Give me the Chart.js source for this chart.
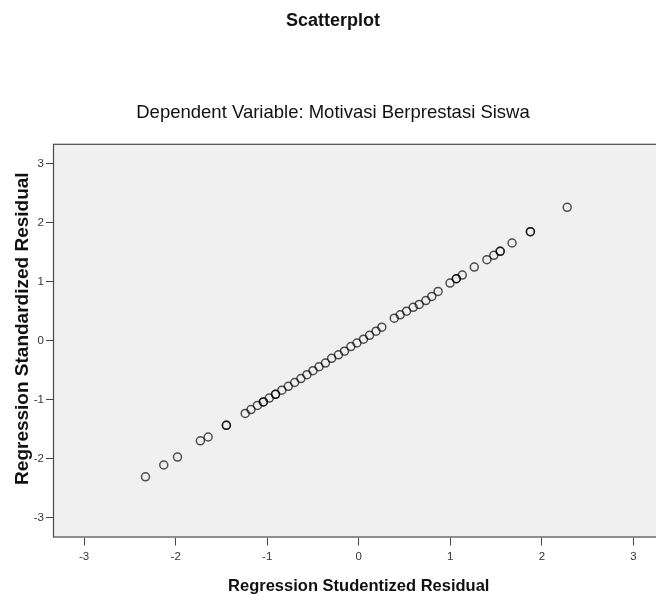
<!DOCTYPE html>
<html>
<head>
<meta charset="utf-8">
<script src="https://cdn.jsdelivr.net/npm/chart.js@4/dist/chart.umd.min.js"></script>
<style>
  html, body { margin: 0; padding: 0; background: #ffffff; overflow: hidden; }
  #wrap { position: absolute; left: 0; top: 0; width: 670px; height: 600px; }
</style>
</head>
<body>
<div id="wrap"><canvas id="c" width="670" height="600"></canvas></div>
<script>
// Regression Studentized Residual (x)
const studentized = [
  -2.33, -2.13, -1.98, -1.73, -1.645, -1.446, -1.446,
  -1.24, -1.177, -1.107, -1.042, -1.042, -0.977, -0.909, -0.909, -0.84, -0.77, -0.70,
  -0.632, -0.566, -0.50, -0.434, -0.364, -0.296, -0.222, -0.156, -0.086, -0.02,
  0.052, 0.118, 0.189, 0.252,
  0.388, 0.453, 0.522, 0.595, 0.66, 0.733, 0.798, 0.867,
  0.997, 1.066, 1.066, 1.131, 1.262, 1.40, 1.476, 1.545, 1.545, 1.675, 1.875, 1.875, 2.277
];
// Regression Standardized Residual (y)
const standardized = [
  -2.31, -2.11, -1.975, -1.70, -1.635, -1.436, -1.436,
  -1.235, -1.17, -1.10, -1.04, -1.04, -0.975, -0.91, -0.91, -0.84, -0.775, -0.71,
  -0.644, -0.578, -0.51, -0.443, -0.38, -0.30, -0.24, -0.178, -0.10, -0.04,
  0.025, 0.09, 0.16, 0.228,
  0.382, 0.439, 0.50, 0.565, 0.615, 0.68, 0.75, 0.835,
  0.977, 1.05, 1.05, 1.113, 1.249, 1.373, 1.447, 1.515, 1.515, 1.657, 1.849, 1.849, 2.262
];
const tickValues = [-3, -2, -1, 0, 1, 2, 3];
const axisMin = -3.34;
const axisMax = 3.34;

const mainTitle = 'Scatterplot';
const subTitle = 'Dependent Variable: Motivasi Berprestasi Siswa';
const xTitle = 'Regression Studentized Residual';
const yTitle = 'Regression Standardized Residual';

const FONT = "'Liberation Sans', Arial, sans-serif";

const points = studentized.map((x, i) => ({ x: x, y: standardized[i] }));

const plotFrame = {
  id: 'plotFrame',
  beforeDatasetsDraw(chart) {
    const a = chart.chartArea, ctx = chart.ctx;
    ctx.save();
    ctx.fillStyle = '#f0f0f0';
    ctx.fillRect(a.left, a.top, a.right - a.left, a.bottom - a.top);
    ctx.restore();
  },
  afterDraw(chart) {
    const a = chart.chartArea, ctx = chart.ctx;
    ctx.save();
    ctx.strokeStyle = '#4a4a4a';
    ctx.lineWidth = 1.2;
    ctx.strokeRect(a.left + 0.5, a.top + 0.5, a.right - a.left - 1, a.bottom - a.top - 1);
    // vertical axis title
    ctx.translate(23, (a.top + a.bottom) / 2 - 12);
    ctx.rotate(-Math.PI / 2);
    ctx.fillStyle = '#111';
    ctx.font = "bold 19px " + FONT;
    ctx.textAlign = 'center';
    ctx.textBaseline = 'middle';
    ctx.fillText(yTitle, 0, 0);
    ctx.restore();
  }
};

const fixedTicks = (scale) => { scale.ticks = tickValues.map(v => ({ value: v })); };

new Chart(document.getElementById('c'), {
  type: 'scatter',
  data: {
    datasets: [{
      data: points,
      pointStyle: 'circle',
      pointRadius: 4,
      pointHoverRadius: 4,
      pointBorderWidth: 1.5,
      pointBackgroundColor: 'rgba(0,0,0,0)',
      pointBorderColor: 'rgba(0,0,0,0.68)'
    }]
  },
  options: {
    responsive: false,
    animation: false,
    events: [],
    layout: { padding: { left: 0, right: 4, top: 0, bottom: 0 } },
    plugins: {
      legend: { display: false },
      tooltip: { enabled: false },
      title: {
        display: true,
        text: mainTitle,
        color: '#111',
        font: { family: FONT, size: 18, weight: 'bold' },
        padding: { top: 10, bottom: 70 }
      },
      subtitle: {
        display: true,
        text: subTitle,
        color: '#111',
        font: { family: FONT, size: 18.5, weight: 'normal' },
        padding: { top: 0, bottom: 20 }
      }
    },
    scales: {
      x: {
        type: 'linear',
        min: axisMin,
        max: axisMax,
        afterBuildTicks: fixedTicks,
        afterFit(scale) { scale.height = 62.5; },
        border: { display: false },
        grid: { display: true, drawOnChartArea: false, drawTicks: true, tickLength: 8, color: '#444', lineWidth: 1 },
        ticks: { color: '#333', font: { family: FONT, size: 11.5 }, padding: 4, maxRotation: 0 },
        title: {
          display: true,
          text: xTitle,
          color: '#111',
          font: { family: FONT, size: 16.5, weight: 'bold' },
          padding: { top: 0, bottom: 4 }
        }
      },
      y: {
        type: 'linear',
        min: axisMin,
        max: axisMax,
        afterBuildTicks: fixedTicks,
        afterFit(scale) { scale.width = 53; },
        border: { display: false },
        grid: { display: true, drawOnChartArea: false, drawTicks: true, tickLength: 7, color: '#444', lineWidth: 1 },
        ticks: { color: '#333', font: { family: FONT, size: 11.5 }, padding: 2 },
        title: { display: false }
      }
    }
  },
  plugins: [plotFrame]
});
</script>
</body>
</html>
